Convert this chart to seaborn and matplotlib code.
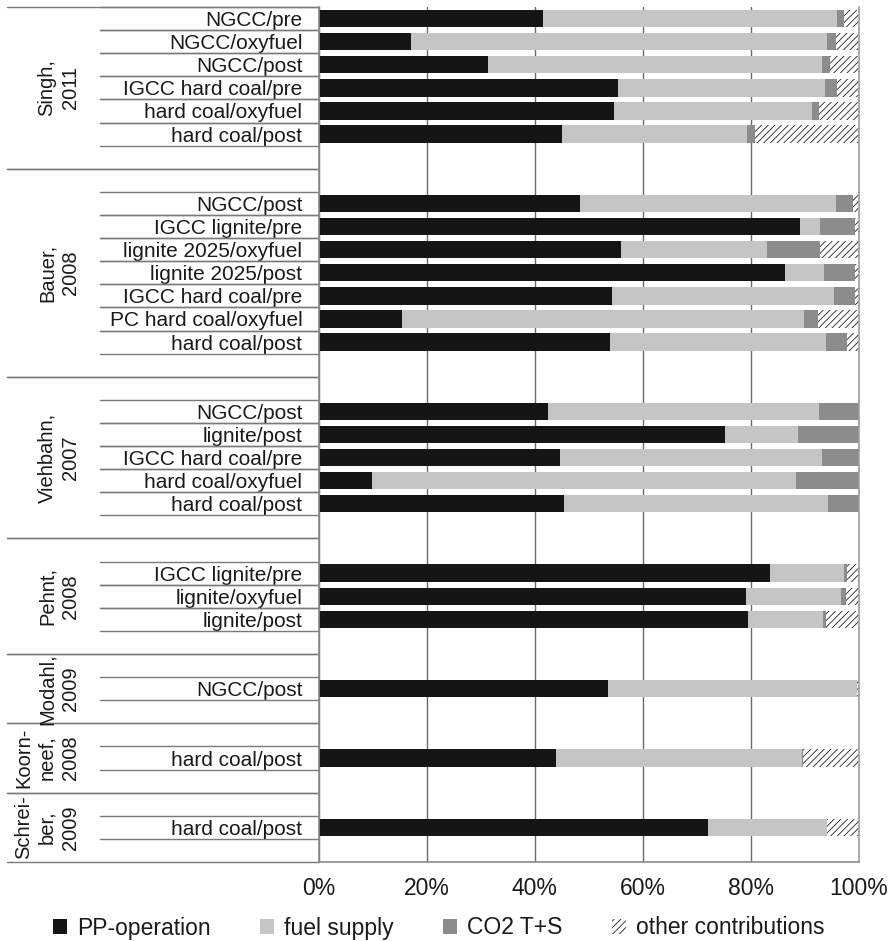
import matplotlib
matplotlib.use("Agg")
import matplotlib.pyplot as plt
import matplotlib.transforms as mtransforms
from matplotlib.patches import Patch
import seaborn as sns
import pandas as pd

sns.set_theme(style="white")
plt.rcParams["font.family"] = ["Liberation Sans", "DejaVu Sans"]
plt.rcParams["hatch.linewidth"] = 0.6

# Studies (group labels) and the cases in each
groups = ["Singh,\n2011", "Bauer,\n2008", "Viehbahn,\n2007", "Pehnt,\n2008",
          "Modahl,\n2009", "Koorn-\nneef,\n2008", "Schrei-\nber,\n2009"]

cases = [
    ["NGCC/pre", "NGCC/oxyfuel", "NGCC/post", "IGCC hard coal/pre",
     "hard coal/oxyfuel", "hard coal/post"],
    ["NGCC/post", "IGCC lignite/pre", "lignite 2025/oxyfuel", "lignite 2025/post",
     "IGCC hard coal/pre", "PC hard coal/oxyfuel", "hard coal/post"],
    ["NGCC/post", "lignite/post", "IGCC hard coal/pre", "hard coal/oxyfuel",
     "hard coal/post"],
    ["IGCC lignite/pre", "lignite/oxyfuel", "lignite/post"],
    ["NGCC/post"],
    ["hard coal/post"],
    ["hard coal/post"],
]

# Shares of total emissions (%) per contribution, listed per study
pp_operation = [
    [41.6, 17.1, 31.4, 55.5, 54.7, 45.0],
    [48.4, 89.2, 56.0, 86.4, 54.4, 15.4, 53.9],
    [42.5, 75.2, 44.6, 9.8, 45.5],
    [83.6, 79.2, 79.5],
    [53.5],
    [44.0],
    [72.1],
]
fuel_supply = [
    [54.4, 77.1, 61.8, 38.3, 36.6, 34.4],
    [47.5, 3.6, 27.0, 7.2, 41.0, 74.5, 40.1],
    [50.1, 13.5, 48.7, 78.6, 48.8],
    [13.7, 17.6, 13.9],
    [46.2],
    [45.6],
    [22.0],
]
co2_ts = [
    [1.3, 1.6, 1.6, 2.2, 1.4, 1.4],
    [3.1, 6.5, 9.8, 5.8, 4.0, 2.6, 3.8],
    [7.4, 11.3, 6.7, 11.6, 5.7],
    [0.5, 0.9, 0.6],
    [0.0],
    [0.2],
    [0.0],
]
other = [
    [2.7, 4.2, 5.2, 4.0, 7.3, 19.2],
    [1.0, 0.7, 7.2, 0.6, 0.6, 7.5, 2.2],
    [0.0, 0.0, 0.0, 0.0, 0.0],
    [2.2, 2.3, 6.0],
    [0.3],
    [10.2],
    [5.9],
]

series_names = ["PP-operation", "fuel supply", "CO2 T+S", "other contributions"]
colors = ["#151515", "#c4c5c4", "#8c8c8c", "white"]

# Slot order: blank spacer rows around each study's cases
records = []
order = []
slot_labels = []
group_spans = []
row_idx = 0
for gi, (g, labs) in enumerate(zip(groups, cases)):
    start = row_idx
    if gi > 0:
        key = f"blank_top_{gi}"
        order.append(key); slot_labels.append(""); row_idx += 1
    for ci, lab in enumerate(labs):
        key = f"{gi}_{ci}"
        order.append(key); slot_labels.append(lab)
        a = pp_operation[gi][ci]
        b = fuel_supply[gi][ci]
        c = co2_ts[gi][ci]
        d = other[gi][ci]
        records.append({"slot": key, "c1": a, "c2": a + b, "c3": a + b + c,
                        "c4": a + b + c + d, "row": row_idx})
        row_idx += 1
    key = f"blank_bot_{gi}"
    order.append(key); slot_labels.append(""); row_idx += 1
    group_spans.append((start, row_idx))

df = pd.DataFrame(records)

fig = plt.figure(figsize=(8.96, 9.41), dpi=100)
ax = fig.add_axes([319 / 896, 1 - 862 / 941, (858.5 - 319) / 896, (862 - 7) / 941])

bw = 0.75
# hatched "other" layer first, then the solid stacks on top
sns.barplot(data=df, x="c4", y="slot", order=order, orient="h", color="white",
            width=bw, ax=ax, edgecolor="#222222", linewidth=0, hatch="/////",
            saturation=1)
for col, colr in [("c3", colors[2]), ("c2", colors[1]), ("c1", colors[0])]:
    sns.barplot(data=df, x=col, y="slot", order=order, orient="h", color=colr,
                width=bw, ax=ax, linewidth=0, saturation=1)

ax.set_xlim(0, 100)
ax.set_xticks([0, 20, 40, 60, 80, 100])
ax.set_xticklabels([f"{v}%" for v in [0, 20, 40, 60, 80, 100]], fontsize=16.5,
                   color="#1a1a1a")
ax.set_xlabel("")
ax.set_ylabel("")
ax.set_yticks(range(len(order)))
ax.set_yticklabels(slot_labels, fontsize=15, color="#1a1a1a")
ax.tick_params(axis="y", length=0, pad=12)
ax.tick_params(axis="x", length=0, pad=11)
ax.grid(axis="x", color="#6a6a6a", linewidth=1.0)
ax.set_axisbelow(True)

ax.spines["top"].set_visible(False)
ax.spines["left"].set_color("#8a8a8a")
ax.spines["bottom"].set_color("#8a8a8a")
ax.spines["right"].set_color("#a0a0a0")
for s in ["left", "bottom", "right"]:
    ax.spines[s].set_linewidth(1.2)

# Multi-level category axis: row and group separators
trans = mtransforms.blended_transform_factory(ax.transAxes, ax.transData)
ax_w = 858.5 - 319
x_row = (100 - 319) / ax_w
x_grp = (7 - 319) / ax_w
line_kw = dict(transform=trans, clip_on=False, color="#7a7a7a", linewidth=1.0)
for r in df["row"]:
    for yb in (r - 0.5, r + 0.5):
        ax.plot([x_row, 0], [yb, yb], **line_kw)
for (s, e) in group_spans:
    ax.plot([x_grp, 0], [s - 0.5, s - 0.5], **line_kw)
    ax.plot([x_grp, 0], [e - 0.5, e - 0.5], **line_kw)

x_glab = (80 - 319) / ax_w
for g, (s, e) in zip(groups, group_spans):
    ax.text(x_glab, (s + e - 1) / 2, g, transform=trans, rotation=90,
            ha="right", va="center", multialignment="center", fontsize=14.5,
            linespacing=1.3, color="#1a1a1a")

ax.set_ylim(len(order) - 0.5, -0.5)

handles = [Patch(facecolor=colors[0], edgecolor="none"),
           Patch(facecolor=colors[1], edgecolor="none"),
           Patch(facecolor=colors[2], edgecolor="none"),
           Patch(facecolor="white", edgecolor="#222222", hatch="/////", linewidth=0)]
fig.legend(handles, series_names, loc="center", bbox_to_anchor=(0.49, 1 - 928 / 941),
           ncol=4, frameon=False, fontsize=16.5, handlelength=0.6, handleheight=0.6,
           handletextpad=0.45, columnspacing=2.15, labelcolor="#1a1a1a")

fig.savefig("out.png", dpi=100)
